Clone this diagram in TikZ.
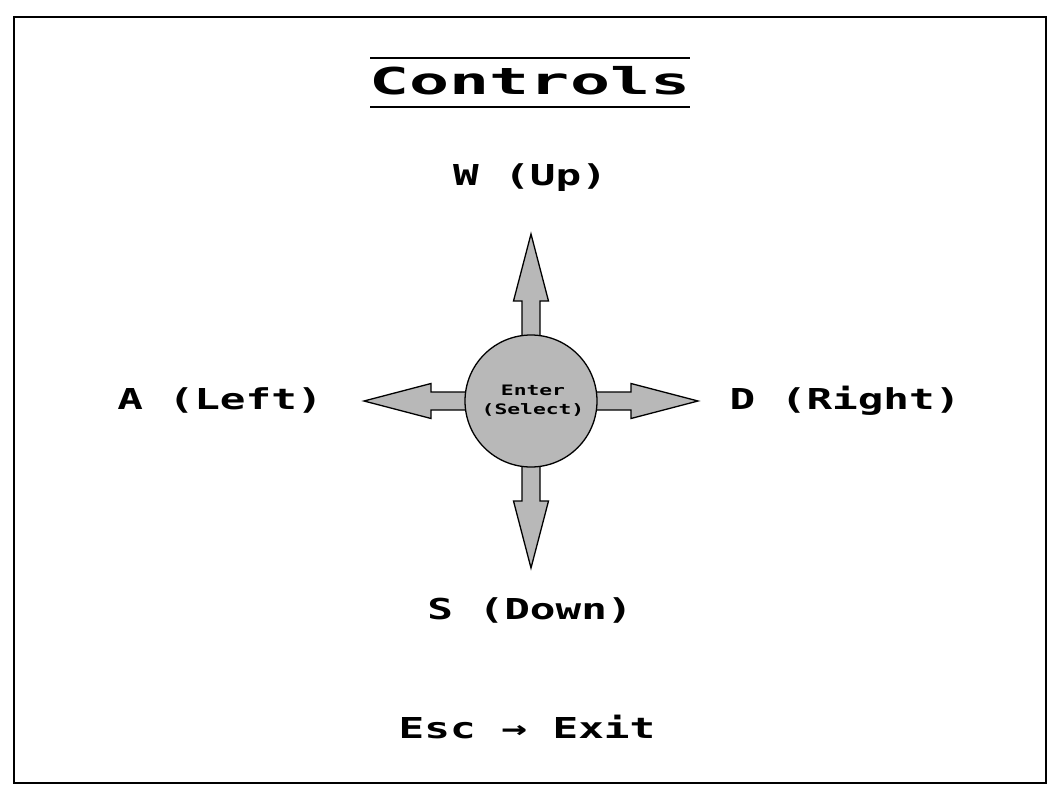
\documentclass[tikz,border=0pt]{standalone}
\usepackage{fontspec}
\newfontfamily\pxtitle[FakeStretch=1.8]{DejaVu Sans Mono}
\newfontfamily\pxlabel[FakeStretch=1.48]{DejaVu Sans Mono}
\definecolor{padgray}{RGB}{184,184,184}
\begin{document}
\begin{tikzpicture}[x=1pt,y=-1pt,
  lbl/.style={inner sep=0pt,anchor=base,font=\pxlabel\bfseries\fontsize{28.8}{30}\selectfont},
  small/.style={inner sep=0pt,anchor=base,font=\pxlabel\bfseries\fontsize{14.4}{15}\selectfont},
  ttl/.style={inner sep=0pt,anchor=base,font=\pxtitle\bfseries\fontsize{37}{38}\selectfont},
  arr/.pic={\draw[line width=1.3pt,fill=padgray,line join=miter]
     (-9,-60) -- (-9,-100) -- (-17.5,-100) -- (0,-167) -- (17.5,-100) -- (9,-100) -- (9,-60) -- cycle;},
  pad/.style={circle,draw,line width=1.3pt,fill=padgray,minimum size=132pt,inner sep=0pt}
]
\useasboundingbox (0,0) rectangle (1063,800);
\draw[line width=2pt] (14,17) rectangle (1046,783);
% title
\coordinate (tl1) at (370,58);
\coordinate (tr1) at (690,58);
\coordinate (tl2) at (370,107);
\coordinate (tr2) at (690,107);
\draw[line width=1.5pt] (tl1) -- (tr1);
\draw[line width=1.5pt] (tl2) -- (tr2);
\node[ttl] (title) at (530,95) {Controls};
% pad
\coordinate (c) at (531,401);
\pic at (c) {arr};
\pic[rotate=90] at (c) {arr};
\pic[rotate=180] at (c) {arr};
\pic[rotate=270] at (c) {arr};
\node[pad] (enter) at (c) {};
\node[small] (e1) at (533,395) {Enter};
\node[small] (e2) at (533,414) {(Select)};
% labels
\node[lbl] (up) at (530,185) {W (Up)};
\node[lbl] (left) at (220,409) {A (Left)};
\node[lbl] (right) at (845,409) {D (Right)};
\node[lbl] (down) at (530,619) {S (Down)};
\node[lbl] (esc) at (527,738) {Esc → Exit};
\end{tikzpicture}
\end{document}
